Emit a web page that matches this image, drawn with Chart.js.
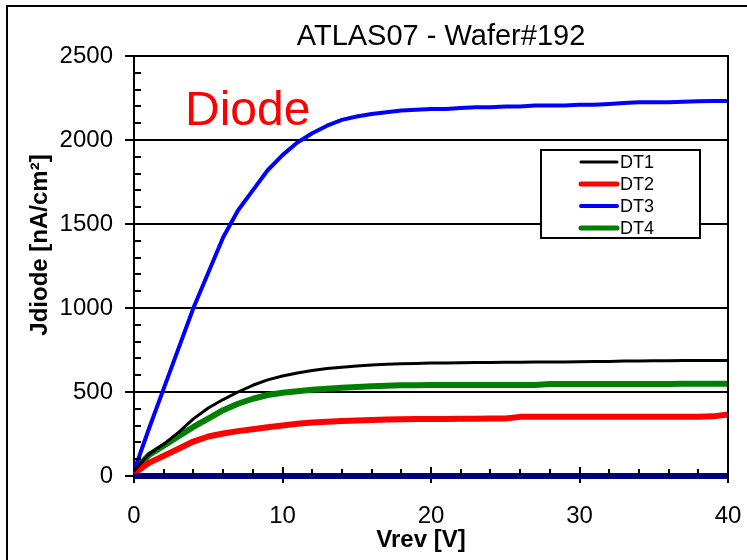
<!DOCTYPE html>
<html>
<head>
<meta charset="utf-8">
<script src="https://cdn.jsdelivr.net/npm/chart.js@4.4.1/dist/chart.umd.min.js"></script>
<style>
  html, body { margin: 0; padding: 0; background: #fff; }
  #wrap { width: 747px; height: 560px; }
</style>
</head>
<body>
<div id="wrap"><canvas id="myChart" width="747" height="560"></canvas></div>
<script>
// reverse voltage [V]
const volts = [0,1,2,3,4,5,6,7,8,9,10,11,12,13,14,15,16,17,18,19,20,
               21,22,23,24,25,26,27,28,29,30,31,32,33,34,35,36,37,38,39,40];

// current density [nA/cm2]
const dt1 = [30,130,190,260,340,405,455,500,540,572,595,613,628,640,648,655,660,665,668,670,672,
             673,674,675,676,677,677,678,678,679,680,681,682,684,685,686,686,687,687,688,688];
const dt2 = [15,78,120,162,205,235,253,267,278,290,300,311,318,323,327,330,333,336,338,339,340,
             340,341,341,342,342,352,352,352,352,352,352,352,352,352,352,352,352,352,355,366];
const dt3 = [30,280,520,760,1000,1210,1420,1580,1700,1820,1910,1985,2040,2085,2120,2140,2155,2165,2175,2180,2185,
             2185,2190,2195,2195,2200,2200,2205,2205,2205,2210,2210,2215,2220,2225,2225,2225,2228,2230,2232,2232];
const dt4 = [30,125,180,237,292,342,392,430,460,482,496,505,513,520,526,530,534,537,540,540,541,
             541,541,542,542,542,542,542,547,547,547,547,548,548,548,548,548,549,549,549,549];

// zero reference line
const baseV = [0, 40];
const baseJ = [0, 0];

const yTicks = [0, 500, 1000, 1500, 2000, 2500];
const xTicks = [0, 10, 20, 30, 40];

const FONT = '"Liberation Sans", Arial, sans-serif';

const pts = (xs, ys) => xs.map((x, i) => ({ x: x, y: ys[i] }));

const decor = {
    id: 'decor',
    beforeDraw(chart) {
        const c = chart.ctx;
        c.save();
        c.fillStyle = '#fff';
        c.fillRect(0, 0, chart.width, chart.height);
        c.restore();
    },
    afterDraw(chart) {
        const c = chart.ctx;
        const a = chart.chartArea;
        const xs = chart.scales.x, ys = chart.scales.y;
        c.save();
        c.strokeStyle = '#000';
        c.lineWidth = 2;
        // outer frame
        c.strokeRect(7, 6, 800, 600);
        // top and right of plot
        c.beginPath();
        c.moveTo(a.left, a.top); c.lineTo(a.right, a.top); c.lineTo(a.right, a.bottom);
        c.stroke();
        // minor y ticks
        c.beginPath();
        for (let v = 100; v < 2500; v += 100) {
            if (v % 500 === 0) continue;
            const y = Math.round(ys.getPixelForValue(v));
            c.moveTo(a.left, y); c.lineTo(a.left + 7, y);
        }
        c.stroke();
        // minor x ticks and inner major ticks
        c.beginPath();
        for (let v = 2; v < 40; v += 2) {
            const x = Math.round(xs.getPixelForValue(v));
            const len = v % 10 === 0 ? 9 : 7;
            c.moveTo(x, a.bottom); c.lineTo(x, a.bottom - len);
        }
        c.stroke();

        c.fillStyle = '#000';
        c.textBaseline = 'alphabetic';
        c.textAlign = 'center';
        c.font = '29px ' + FONT;
        c.fillText('ATLAS07 - Wafer#192', 441, 45);

        c.font = 'bold 24px ' + FONT;
        c.fillText('Vrev [V]', 421, 547);

        c.save();
        c.translate(47, 245);
        c.rotate(-Math.PI / 2);
        c.fillText('Jdiode [nA/cm²]', 0, 0);
        c.restore();

        c.fillStyle = '#ff0000';
        c.textAlign = 'left';
        c.font = '48px ' + FONT;
        c.fillText('Diode', 185, 125);

        // legend box
        c.fillStyle = '#fff';
        c.fillRect(541, 150, 159, 88);
        c.strokeStyle = '#000';
        c.lineWidth = 2;
        c.strokeRect(541, 150, 159, 88);
        c.font = '18px ' + FONT;
        c.textBaseline = 'middle';
        let row = 0;
        chart.data.datasets.forEach(ds => {
            if (!ds.label) return;
            const y = 162 + row * 22;
            c.strokeStyle = ds.borderColor;
            c.lineWidth = Math.min(ds.borderWidth, 5);
            c.lineCap = 'round';
            c.beginPath();
            c.moveTo(581, y); c.lineTo(617, y);
            c.stroke();
            c.fillStyle = '#000';
            c.fillText(ds.label, 620, y + 1);
            row++;
        });
        c.restore();
    }
};

const ctx = document.getElementById('myChart').getContext('2d');

new Chart(ctx, {
    type: 'line',
    data: {
        datasets: [
            { label: '', data: pts(baseV, baseJ), borderColor: '#000080', borderWidth: 6, clip: false },
            { label: 'DT1', data: pts(volts, dt1), borderColor: '#000000', borderWidth: 3 },
            { label: 'DT2', data: pts(volts, dt2), borderColor: '#ff0000', borderWidth: 6 },
            { label: 'DT3', data: pts(volts, dt3), borderColor: '#0000ff', borderWidth: 4 },
            { label: 'DT4', data: pts(volts, dt4), borderColor: '#008000', borderWidth: 6 }
        ]
    },
    options: {
        responsive: false,
        animation: false,
        devicePixelRatio: 1,
        layout: { padding: { top: 56, right: 19, left: 0, bottom: 0 } },
        elements: {
            point: { radius: 0 },
            line: { tension: 0, borderJoinStyle: 'round' }
        },
        plugins: {
            legend: { display: false },
            title: { display: false },
            tooltip: { enabled: false }
        },
        scales: {
            x: {
                type: 'linear',
                min: 0,
                max: 40,
                afterBuildTicks: s => { s.ticks = xTicks.map(v => ({ value: v })); },
                afterFit: s => { s.height = 84; s.paddingLeft = 0; s.paddingRight = 0; },
                grid: { drawOnChartArea: false, color: '#000', lineWidth: 2, tickLength: 7 },
                border: { color: '#000', width: 2 },
                ticks: { color: '#000', font: { family: FONT, size: 24 }, padding: 19, maxRotation: 0,
                         callback: v => String(v) }
            },
            y: {
                min: 0,
                max: 2500,
                afterBuildTicks: s => { s.ticks = yTicks.map(v => ({ value: v })); },
                afterFit: s => { s.width = 134; s.paddingTop = 0; s.paddingBottom = 0; },
                grid: { color: '#000', lineWidth: 2, tickLength: 9 },
                border: { color: '#000', width: 2 },
                ticks: { color: '#000', font: { family: FONT, size: 24 }, padding: 12,
                         callback: v => String(v) }
            }
        }
    },
    plugins: [decor]
});
</script>
</body>
</html>
